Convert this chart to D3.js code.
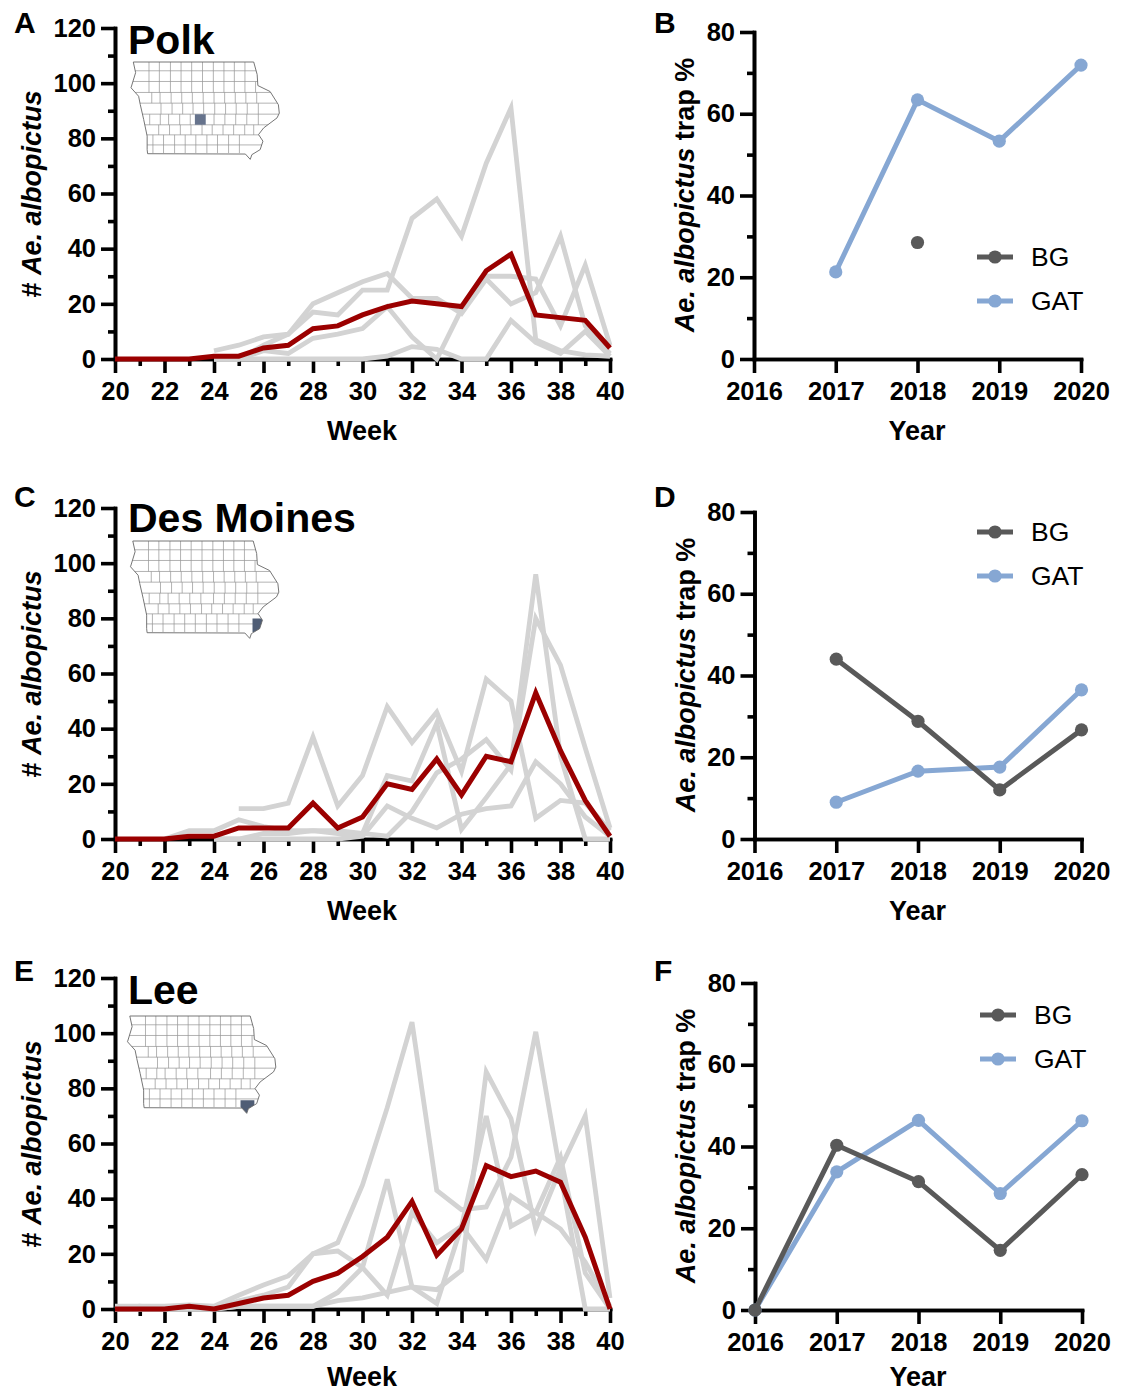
<!DOCTYPE html>
<html>
<head>
	<title></title>
	<script src="https://d3js.org/d3.v7.min.js"></script>
	<style>
		html, body { margin:0; padding:0; background:#fff; }
		text { font-family:"Liberation Sans", Arial, sans-serif; fill:#000; }
	</style>
</head>
<body>
<div id="chart"></div>
<script type="text/javascript">
var weeks = d3.range(20, 41);
var weekMajor = d3.range(20, 41, 2);
var weekMinor = d3.range(21, 41, 2);
var countMajor = [0, 20, 40, 60, 80, 100, 120];
var countMinor = [10, 30, 50, 70, 90, 110];
var years = [2016, 2017, 2018, 2019, 2020];
var pctMajor = [0, 20, 40, 60, 80];
var pctMinor = [10, 30, 50, 70];
var _ = null;

// county means (red)
var polkMean = [0,0,0,0,1,1,4,5,11,12,16,19,21,20,19,32,38,16,15,14,4];
var desMoinesMean = [0,0,0,1,1,4,4,4,13,4,8,20,18,29,16,30,28,53,32,14,1];
var leeMean = [0,0,0,1,0,2,4,5,10,13,19,26,39,19.5,29,52,48,50,46,26,0];

// single years (grey)
var polkYears = [
	[_,_,_,_,3,5,8,9,20,24,28,31,22,22,16.5,29,20,24,44.5,12,2],
	[_,_,_,_,0,0,5,9,17,16,25,25,51,58,44.5,71,91,7,3,1.5,1],
	[_,_,_,_,0,0,3,2,7.5,9,11,19,8,0,18,30,30,29,12,34,5],
	[_,_,_,_,0,0,0,0,0,0,0,1,4.5,3.5,0,0,14,6,2,10,1]
];
var desMoinesYears = [
	[_,_,_,_,_,11,11,13,37,12,23,48,35,46,24.5,58,50,7.5,14,13,3],
	[_,_,_,_,0,0,2,2,3,2,2,23,21,42,3.5,15,27,96,30,0,0],
	[_,_,_,_,0,0,0,0,0,0,1,12,7.5,4,9,11,12,28,20,8,1],
	[_,_,0,3,3,7,4.5,3,3,3,2,1,10,24,29,36,25,80,63,33,4]
];
var leeYears = [
	[1,1,1,1.5,1,5,8.7,12,20,24,45,73,104,43,36,37,55,100.5,49,0,0],
	[0,1,0,1,0,3,5,8,20,21,15,5,35,24,30,18,41,35,29,17,1],
	[0,0,0,0,0,1,1,1,1,6,15,47,8,2,30,70,30,35,55,13,0],
	[0,0,0,0,0,1,1,1,1,3,4,6,8,7,14,86,69,29,51,70,4]
];

// trap share per year
var bgB = [_,_,28.5,_,_];
var gatB = [_,21.3,63.4,53.3,71.9];
var bgD = [_,44,28.8,12,26.7];
var gatD = [_,9,16.6,17.6,36.5];
var bgF = [0,40.3,31.4,14.6,33.1];
var gatF = [0,33.8,46.4,28.5,46.3];

// Iowa inset, lon/lat
var iowaOutline = [[-96.5,43.5],[-91.28,43.5],[-91.13,43.1],[-91.1,42.75],[-90.57,42.56],[-90.21,42.14],[-90.17,41.87],[-90.27,41.72],[-90.85,41.4],[-91.07,41.19],[-90.88,40.98],[-91,40.71],[-91.36,40.55],[-91.43,40.4],[-91.64,40.57],[-95.88,40.58],[-95.9,40.71],[-95.9,41.14],[-96.05,41.67],[-96.2,42.15],[-96.27,42.41],[-96.6,42.68],[-96.4,43.16]];
var rowLats = [43.5,43.22,42.88,42.53,42.19,41.84,41.5,41.18,40.86,40.6];
var rowLons = [
	[-95.82,-95.37,-94.89,-94.43,-93.97,-93.5,-93.03,-92.57,-92.12,-91.66],
	[-95.82,-95.37,-94.89,-94.43,-93.97,-93.5,-93.03,-92.57,-92.12,-91.66],
	[-95.82,-95.37,-94.89,-94.43,-93.97,-93.5,-93.03,-92.57,-92.12,-91.66,-91.2],
	[-95.7,-95.34,-94.86,-94.4,-93.94,-93.47,-93,-92.54,-92.08,-91.62,-91.15],
	[-95.3,-94.82,-94.36,-93.91,-93.45,-92.97,-92.5,-92.04,-91.56,-91.08],
	[-95.79,-95.33,-94.97,-94.49,-94.03,-93.55,-93,-92.53,-92.06,-91.58,-91.08],
	[-95.4,-94.93,-94.46,-94,-93.52,-93.08,-92.61,-92.15,-91.67,-91.28],
	[-95.65,-95.19,-94.71,-94.25,-93.79,-93.31,-92.85,-92.37,-91.9],
	[-95.65,-95.19,-94.71,-94.25,-93.79,-93.31,-92.85,-92.37,-91.9]
];
var polkShape = [[-93.83,41.84],[-93.36,41.84],[-93.36,41.5],[-93.83,41.5]];
var desMoinesShape = [[-91.31,41.03],[-90.85,41.03],[-90.85,40.6],[-91.31,40.6]];
var leeShape = [[-91.7,40.82],[-91.1,40.82],[-91.1,40.6],[-91.4,40.35],[-91.7,40.6]];

var width = 1125, height = 1392;
var svg = d3.select('#chart').append('svg').attr('width', width).attr('height', height);

var weekX = d3.scaleLinear().domain([20, 40]).range([115, 610]);
var lineColor = '#d3d3d3', meanColor = '#9b0000', bgColor = '#595959', gatColor = '#86a7d3';

function drawAxis(g, axisMajor, axisMinor, padding) {
	g.append('g').call(axisMinor.tickSize(7).tickSizeOuter(0).tickFormat(''));
	g.append('g').call(axisMajor.tickSize(14).tickSizeOuter(0).tickPadding(padding));
	g.selectAll('path.domain').attr('stroke', '#000').attr('stroke-width', 3.6).attr('stroke-linecap', 'square');
	g.selectAll('line').attr('stroke', '#000').attr('stroke-width', 3.6);
	g.selectAll('text').attr('font-size', 25.5).attr('font-weight', 'bold');
	g.selectAll('g').attr('font-family', null);
}

function drawYTitle(x, y, parts) {
	var t = svg.append('text')
		.attr('transform', 'translate(' + x + ',' + y + ') rotate(-90)')
		.attr('text-anchor', 'middle')
		.attr('font-size', 27)
		.attr('font-weight', 'bold');
	parts.forEach(function(p) {
		t.append('tspan').attr('font-style', p[1] ? 'italic' : 'normal').text(p[0]);
	});
}

function drawMap(x0, y0, shape, id, shapeColor) {
	var lon = d3.scaleLinear().domain([-96.6, -90.14]).range([x0, x0 + 149]);
	var lat = d3.scaleLinear().domain([43.5, 40.38]).range([y0, y0 + 98]);
	var path = d3.line().x(function(d){ return lon(d[0]); }).y(function(d){ return lat(d[1]); });
	svg.append('clipPath').attr('id', id).append('path').attr('d', path(iowaOutline) + 'Z');
	var g = svg.append('g').attr('clip-path', 'url(#' + id + ')');
	rowLats.slice(1, -1).forEach(function(l) {
		g.append('path').attr('d', path([[-96.7, l], [-90, l]]))
			.attr('fill', 'none').attr('stroke', '#929292').attr('stroke-width', 0.7);
	});
	rowLons.forEach(function(row, i) {
		row.forEach(function(l) {
			g.append('path').attr('d', path([[l, rowLats[i]], [l, rowLats[i + 1]]]))
				.attr('fill', 'none').attr('stroke', '#929292').attr('stroke-width', 0.7);
		});
	});
	g.append('path').attr('d', path(shape) + 'Z').attr('fill', shapeColor);
	svg.append('path').attr('d', path(iowaOutline) + 'Z')
		.attr('fill', 'none').attr('stroke', '#666').attr('stroke-width', 0.9);
}

function drawCount(top, bottom, letter, letterY, title, titleY, yearLines, mean) {
	var y = d3.scaleLinear().domain([0, 120]).range([bottom, top]);
	var ax = svg.append('g');
	var xg = ax.append('g').attr('transform', 'translate(0,' + bottom + ')');
	drawAxis(xg,
		d3.axisBottom(weekX).tickValues(weekMajor).tickFormat(d3.format('d')),
		d3.axisBottom(weekX).tickValues(weekMinor), 9);
	var yg = ax.append('g').attr('transform', 'translate(115,0)');
	drawAxis(yg,
		d3.axisLeft(y).tickValues(countMajor).tickFormat(d3.format('d')),
		d3.axisLeft(y).tickValues(countMinor), 5);

	var line = d3.line()
		.defined(function(d){ return d !== null; })
		.x(function(d, i){ return weekX(weeks[i]); })
		.y(function(d){ return y(d); });
	svg.append('g').selectAll('path').data(yearLines).enter().append('path')
		.attr('d', line)
		.attr('fill', 'none').attr('stroke', lineColor).attr('stroke-width', 4.8).attr('stroke-linejoin', 'miter');
	svg.append('path').attr('d', line(mean))
		.attr('fill', 'none').attr('stroke', meanColor).attr('stroke-width', 5);

	svg.append('text').attr('x', 14).attr('y', letterY).attr('font-size', 30).attr('font-weight', 'bold').text(letter);
	svg.append('text').attr('x', 128).attr('y', titleY).attr('font-size', 41).attr('font-weight', 'bold').text(title);
	// bottom row sits right at the page edge, keep the text box inside
	svg.append('text').attr('x', 362).attr('y', Math.min(bottom + 81, height - 6)).attr('text-anchor', 'middle')
		.attr('font-size', 27).attr('font-weight', 'bold').text('Week');
	drawYTitle(41, bottom - 165, [['# ', false], ['Ae. albopictus', true]]);
}

function drawShare(left, top, bottom, letter, letterY, bg, gat, legendX, legendY) {
	var x = d3.scaleLinear().domain([2016, 2020]).range([left, left + 327]);
	var y = d3.scaleLinear().domain([0, 80]).range([bottom, top]);
	var xg = svg.append('g').attr('transform', 'translate(0,' + bottom + ')');
	drawAxis(xg,
		d3.axisBottom(x).tickValues(years).tickFormat(d3.format('d')),
		d3.axisBottom(x).tickValues([]), 9);
	var yg = svg.append('g').attr('transform', 'translate(' + left + ',0)');
	drawAxis(yg,
		d3.axisLeft(y).tickValues(pctMajor).tickFormat(d3.format('d')),
		d3.axisLeft(y).tickValues(pctMinor), 5);

	var line = d3.line()
		.defined(function(d){ return d !== null; })
		.x(function(d, i){ return x(years[i]); })
		.y(function(d){ return y(d); });
	[[gat, gatColor], [bg, bgColor]].forEach(function(s) {
		svg.append('path').attr('d', line(s[0]))
			.attr('fill', 'none').attr('stroke', s[1]).attr('stroke-width', 5);
		svg.append('g').selectAll('circle').data(s[0]).enter()
			.filter(function(d){ return d !== null; })
			.append('circle')
			.attr('cx', function(d){ return x(years[s[0].indexOf(d)]); })
			.attr('cy', function(d){ return y(d); })
			.attr('r', 6.6)
			.attr('fill', s[1]);
	});

	[['BG', bgColor], ['GAT', gatColor]].forEach(function(s, i) {
		var ly = legendY + i * 44;
		svg.append('line').attr('x1', legendX).attr('x2', legendX + 36).attr('y1', ly).attr('y2', ly)
			.attr('stroke', s[1]).attr('stroke-width', 5);
		svg.append('circle').attr('cx', legendX + 18).attr('cy', ly).attr('r', 6.6).attr('fill', s[1]);
		svg.append('text').attr('x', legendX + 54).attr('y', ly + 9).attr('font-size', 26.5).text(s[0]);
	});

	svg.append('text').attr('x', 654).attr('y', letterY).attr('font-size', 30).attr('font-weight', 'bold').text(letter);
	svg.append('text').attr('x', left + 163).attr('y', Math.min(bottom + 81, height - 6)).attr('text-anchor', 'middle')
		.attr('font-size', 27).attr('font-weight', 'bold').text('Year');
	drawYTitle(left - 60, bottom - 164, [['Ae. albopictus', true], [' trap %', false]]);
}

drawCount(28, 359, 'A', 33, 'Polk', 54, polkYears, polkMean);
drawCount(508, 839, 'C', 507, 'Des Moines', 532, desMoinesYears, desMoinesMean);
drawCount(978, 1309, 'E', 981, 'Lee', 1004, leeYears, leeMean);

drawShare(754, 32, 359, 'B', 33, bgB, gatB, 977, 257);
drawShare(754.5, 512, 839, 'D', 507, bgD, gatD, 977, 532);
drawShare(755, 983, 1310, 'F', 981, bgF, gatF, 980, 1015);

drawMap(131, 62, polkShape, 'map-a', '#66738c');
drawMap(130.5, 541, desMoinesShape, 'map-c', '#4f5d75');
drawMap(127.5, 1016, leeShape, 'map-e', '#4f5d75');
</script>
</body>
</html>
